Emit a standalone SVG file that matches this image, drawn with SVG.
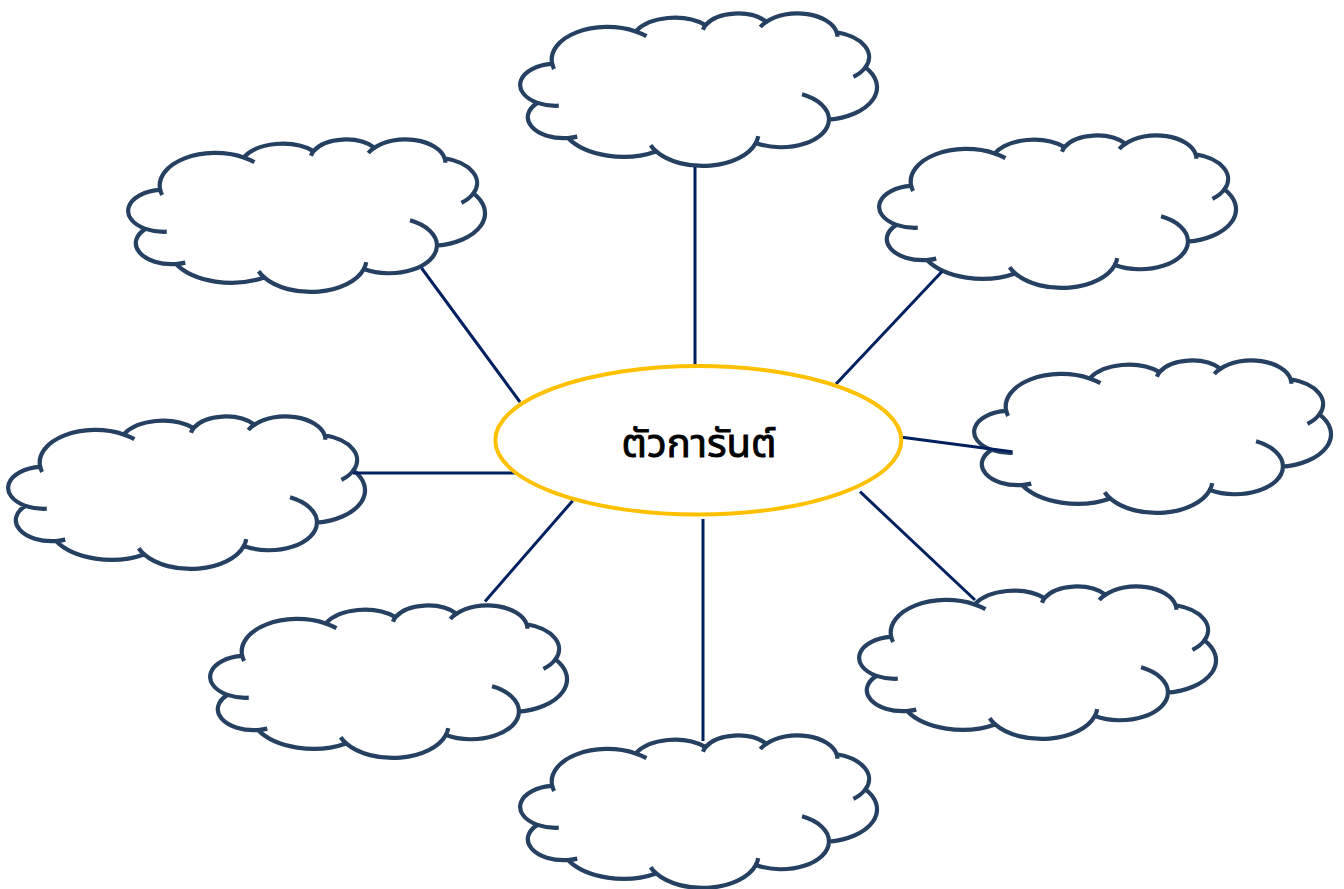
<svg xmlns="http://www.w3.org/2000/svg" xmlns:xlink="http://www.w3.org/1999/xlink" width="1344" height="889" viewBox="0 0 1344 889">
<style>
.cloud-fill{fill:#ffffff;stroke:#254061;stroke-width:4.2;vector-effect:non-scaling-stroke;stroke-linejoin:round}
.cloud-hook{fill:none;stroke:#254061;stroke-width:4.2;vector-effect:non-scaling-stroke}
.conn{stroke:#002060;stroke-width:3;fill:none}
.hub{fill:#ffffff;stroke:#FFC000;stroke-width:4}
.hub-text{font-family:"Noto Sans Thai","Tahoma","Leelawadee UI","DejaVu Sans","Noto Sans",sans-serif;font-size:40px;fill:#000000;stroke:#000000;stroke-width:0.9;text-anchor:middle}
</style>
<defs>
<g id="cloudShape">
<path class="cloud-fill" transform="translate(2,2) scale(0.0082639,0.0035417)" d="M3900 14370 A6753 9190 0 0 1 14000 5192 A5333 7267 0 0 1 22449 3420 A4365 5945 0 0 1 29826 2469 A4857 6595 0 0 1 38324 5426 A5333 7273 0 0 1 41798 15354 A6775 9220 0 0 1 37385 30098 A5785 7867 0 0 1 28537 36709 A6752 9215 0 0 1 16478 39090 A7720 10543 0 0 1 5811 35293 A4360 5918 0 0 1 2119 25372 A4345 5945 0 0 1 3900 14370 Z"/>
<path class="cloud-hook" transform="translate(2,2) scale(0.0082639,0.0035417)" d="M4693 26177 A4345 5945 0 0 1 2119 25372 M6928 34899 A4360 5918 0 0 1 5811 35293 M16478 39090 A6752 9215 0 0 1 15810 37350 M28827 34751 A6752 9215 0 0 1 28537 36709 M34129 22954 A5785 7867 0 0 1 37385 30098 M41798 15354 A5333 7273 0 0 1 40348 18032 M38324 5426 A4857 6595 0 0 1 38401 6690 M29078 3952 A4857 6595 0 0 1 29826 2469 M22141 4720 A4365 5945 0 0 1 22449 3420 M14000 5192 A6753 9190 0 0 1 15301 6542 M4127 15789 A6753 9190 0 0 1 3900 14370"/>
</g>
</defs>
<g id="cloud-top" transform="translate(518,11)"><use xlink:href="#cloudShape"/></g>
<g id="cloud-top-left" transform="translate(126,137)"><use xlink:href="#cloudShape"/></g>
<g id="cloud-top-right" transform="translate(877,133)"><use xlink:href="#cloudShape"/></g>
<g id="cloud-right" transform="translate(972,358)"><use xlink:href="#cloudShape"/></g>
<g id="cloud-left" transform="translate(6,414)"><use xlink:href="#cloudShape"/></g>
<g id="cloud-bottom-left" transform="translate(208,603)"><use xlink:href="#cloudShape"/></g>
<g id="cloud-bottom-right" transform="translate(857,584)"><use xlink:href="#cloudShape"/></g>
<g id="cloud-bottom" transform="translate(518,733)"><use xlink:href="#cloudShape"/></g>
<g id="connectors">
<line class="conn" x1="695" y1="167" x2="695" y2="366"/>
<line class="conn" x1="421.5" y1="268" x2="520" y2="402"/>
<line class="conn" x1="942" y1="271.5" x2="836" y2="384"/>
<line class="conn" x1="902" y1="437.3" x2="1012" y2="451.7"/>
<line class="conn" x1="353" y1="473" x2="516" y2="473"/>
<line class="conn" x1="572.7" y1="500.7" x2="485" y2="601.5"/>
<line class="conn" x1="703" y1="519" x2="703" y2="741"/>
<line class="conn" x1="860" y1="491.7" x2="975" y2="600"/>
</g>
<g id="center">
<ellipse class="hub" cx="698.3" cy="440.3" rx="203" ry="74.3"/>
<text class="hub-text" x="699" y="457">ตัวการันต์</text>
</g>
</svg>
